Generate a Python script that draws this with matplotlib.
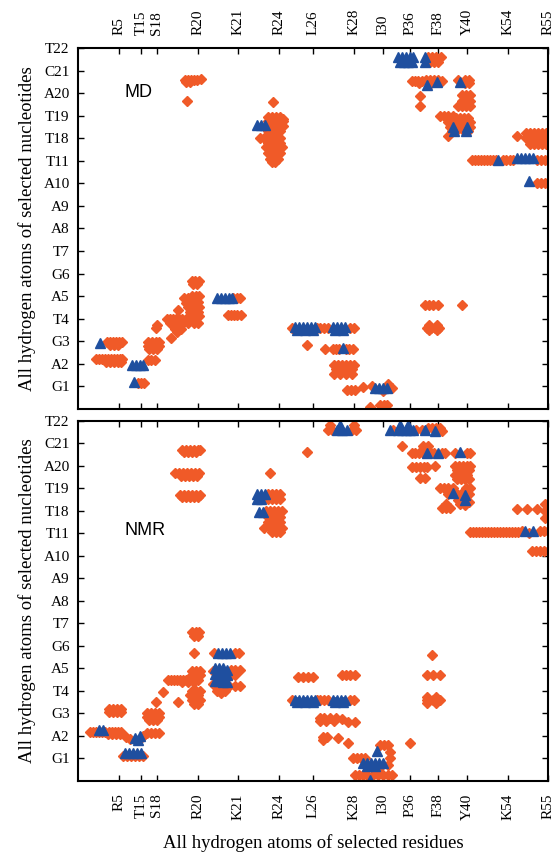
import matplotlib.pyplot as plt

# residues along x (hydrogen atom index) and nucleotides along y
residues = ['R5', 'T15', 'S18', 'R20', 'K21', 'R24', 'L26', 'K28', 'I30',
            'P36', 'F38', 'Y40', 'K54', 'R55']
residue_pos = [41, 63, 79, 120, 160, 201, 235, 276, 305, 332, 360, 389, 430, 470]
nucleotides = ['G1', 'A2', 'G3', 'T4', 'A5', 'G6', 'T7', 'A8', 'A9', 'A10',
               'T11', 'T18', 'T19', 'A20', 'C21', 'T22']

# MD contacts (x = atom index, y = nucleotide position)
md_orange = [
    (29, 2.95), (32, 2.95), (35, 2.95), (38, 2.95), (41, 2.95), (44, 2.95),
    (32, 2.85), (36, 2.85), (40, 2.85),
    (18, 2.2), (21, 2.2), (24, 2.2), (27, 2.2), (30, 2.2), (33, 2.2),
    (36, 2.2), (39, 2.2), (42, 2.2), (44, 2.2),
    (28, 2.1), (32, 2.1), (36, 2.1), (40, 2.1), (43, 2.1),
    (60, 1.14), (63, 1.14), (66, 1.14),
    (70, 2.15), (73, 2.15), (77, 2.15),
    (70, 2.95), (74, 2.95), (78, 2.95), (81, 2.95),
    (70, 2.8), (74, 2.8), (78, 2.8), (81, 2.8),
    (71, 2.65), (75, 2.65), (79, 2.65),
    (78, 3.6), (79, 3.7),
    (93, 3.15),
    (89, 4.0), (92, 4.0), (95, 4.0), (98, 4.0), (101, 4.0), (104, 4.0), (108, 4.0), (112, 4.0),
    (92, 3.8), (95, 3.8), (98, 3.8), (102, 3.8), (105, 3.8), (110, 3.8), (116, 3.8), (120, 3.8),
    (97, 3.55), (100, 3.55), (103, 3.55), (99, 3.4),
    (100, 4.4),
    (106, 4.9), (110, 4.9), (114, 5.0), (118, 5.0), (121, 5.0),
    (108, 4.7), (112, 4.7), (116, 4.75), (120, 4.75),
    (110, 4.5), (114, 4.5), (118, 4.5), (121, 4.5),
    (112, 4.3), (116, 4.3), (120, 4.3),
    (114, 4.1), (118, 4.1), (121, 4.1),
    (114, 5.65), (117, 5.65), (121, 5.65), (115, 5.55), (119, 5.55),
    (107, 14.6), (110, 14.6), (113, 14.6), (116, 14.6), (119, 14.6), (123, 14.62),
    (108, 14.5), (112, 14.5), (109, 13.64),
    (155, 4.94), (159, 4.94), (162, 4.94),
    (150, 4.17), (153, 4.17), (156, 4.17), (159, 4.17), (163, 4.17),
    (190, 12.95), (194, 12.95), (198, 12.95), (202, 12.95), (205, 12.85),
    (190, 12.75), (194, 12.75), (198, 12.75), (202, 12.75), (205, 12.75),
    (190, 12.55), (194, 12.55), (198, 12.55), (202, 12.55), (205, 12.55),
    (190, 12.3), (194, 12.3), (198, 12.3), (202, 12.3),
    (195, 13.6),
    (182, 12.0), (186, 12.0), (190, 12.0), (194, 12.0), (198, 12.0), (202, 12.0),
    (190, 11.8), (194, 11.8), (198, 11.8), (202, 11.8),
    (188, 11.6), (192, 11.6), (196, 11.6), (200, 11.6), (204, 11.6),
    (190, 11.35), (194, 11.35), (198, 11.35), (202, 11.35),
    (192, 11.1), (196, 11.1), (200, 11.1), (194, 10.95), (197, 10.95),
    (214, 3.6), (239, 3.6), (242, 3.6), (246, 3.6), (250, 3.6), (272, 3.6), (276, 3.6),
    (229, 2.84), (247, 2.65), (255, 2.65), (258, 2.65), (261, 2.65), (268, 2.65),
    (271, 2.65), (275, 2.65),
    (256, 1.95), (260, 1.95), (264, 1.95), (268, 1.95), (272, 1.95), (276, 1.95),
    (258, 1.75), (262, 1.75), (266, 1.75), (270, 1.75), (274, 1.75),
    (256, 1.55), (262, 1.55), (268, 1.55), (274, 1.55),
    (269, 0.84), (273, 0.84), (277, 0.84), (285, 0.99),
    (294, 1.0), (311, 0.95), (314, 0.95), (310, 1.1), (305, 0.8),
    (292, 0.1), (302, 0.18), (306, 0.18), (309, 0.18), (304, 0.05),
    (350, 15.6), (354, 15.6), (358, 15.6), (363, 15.6), (352, 15.4), (356, 15.4), (360, 15.4),
    (334, 14.55), (337, 14.55), (340, 14.55), (344, 14.55), (348, 14.6), (352, 14.6),
    (356, 14.6), (360, 14.6), (364, 14.55), (341, 14.45), (353, 14.45),
    (380, 14.6), (387, 14.6), (391, 14.6), (387, 14.45), (391, 14.45),
    (342, 13.86), (342, 13.42),
    (362, 12.97), (366, 12.97), (370, 12.97), (375, 12.97),
    (384, 13.9), (388, 13.9), (392, 13.9), (384, 13.65), (388, 13.65), (392, 13.65),
    (380, 13.45), (384, 13.45), (388, 13.45), (392, 13.45),
    (370, 12.9), (374, 12.9), (378, 12.9), (382, 12.9), (386, 12.9), (390, 12.9),
    (370, 12.7), (378, 12.7), (382, 12.7), (386, 12.7), (392, 12.7),
    (372, 12.5), (380, 12.5), (384, 12.5), (392, 12.5),
    (374, 12.3), (378, 12.3), (386, 12.3), (390, 12.3), (370, 12.1),
    (394, 11.05), (397, 11.05), (400, 11.05), (403, 11.05), (406, 11.05), (409, 11.05),
    (412, 11.05), (415, 11.05), (418, 11.05),
    (425, 11.05), (428, 11.05), (432, 11.05), (435, 11.05),
    (459, 11.05), (463, 11.05), (467, 11.05), (470, 11.05),
    (439, 12.1),
    (448, 12.25), (452, 12.25), (456, 12.25), (460, 12.25), (464, 12.25), (468, 12.25),
    (448, 12.0), (452, 12.0), (456, 12.0), (460, 12.0), (464, 12.0), (468, 12.0),
    (452, 11.75), (456, 11.75), (460, 11.75), (464, 11.75), (468, 11.75),
    (459, 10.0), (463, 10.0), (467, 10.0), (470, 10.0),
    (347, 4.62), (351, 4.62), (355, 4.62), (360, 4.62), (384, 4.62),
    (349, 3.6), (353, 3.6), (357, 3.6), (361, 3.6),
    (351, 3.72), (359, 3.72), (351, 3.48), (359, 3.48),
]
md_blue = [
    (22, 2.92),
    (54, 1.95), (58, 1.95), (62, 1.95), (65, 1.95), (56, 1.21),
    (139, 4.94), (143, 4.94), (147, 4.94), (151, 4.94), (154, 4.94),
    (179, 12.6), (183, 12.6), (187, 12.6),
    (217, 3.62), (221, 3.62), (225, 3.62), (229, 3.62), (233, 3.62), (237, 3.62),
    (255, 3.62), (259, 3.62), (263, 3.62), (267, 3.62),
    (219, 3.5), (227, 3.5), (235, 3.5), (257, 3.5), (265, 3.5),
    (265, 2.69),
    (297, 0.95), (301, 0.95), (305, 0.95), (309, 0.95),
    (320, 15.6), (324, 15.6), (328, 15.6), (332, 15.6), (335, 15.6),
    (322, 15.4), (326, 15.4), (330, 15.4), (334, 15.4),
    (347, 15.6), (347, 15.4),
    (349, 14.35), (359, 14.5), (382, 14.5),
    (375, 12.5), (389, 12.5), (376, 12.3), (388, 12.3),
    (420, 11.05), (439, 11.13), (443, 11.13), (447, 11.13), (451, 11.13), (455, 11.13),
    (451, 10.09),
]

# NMR contacts
nmr_orange = [
    (12, 2.19), (15, 2.19), (18, 2.19), (21, 2.19), (24, 2.19), (27, 2.19), (31, 2.19),
    (34, 2.19), (37, 2.19), (40, 2.19), (43, 2.19),
    (30, 2.1), (34, 2.1), (38, 2.1), (42, 2.1),
    (31, 3.2), (35, 3.2), (39, 3.2), (43, 3.2), (31, 3.05), (35, 3.05), (39, 3.05), (43, 3.05),
    (48, 1.96),
    (45, 1.1), (49, 1.1), (53, 1.1), (57, 1.1), (61, 1.1), (65, 1.1),
    (52, 1.85), (65, 2.0), (64, 1.95),
    (69, 3.0), (73, 3.0), (77, 3.0), (81, 3.0), (69, 2.85), (73, 2.85), (77, 2.85), (81, 2.85),
    (71, 2.7), (75, 2.7), (79, 2.7),
    (69, 2.15), (73, 2.15), (77, 2.15), (81, 2.15), (78, 3.5), (85, 3.95),
    (100, 3.5),
    (90, 4.5), (93, 4.5), (96, 4.5), (99, 4.5), (102, 4.5), (105, 4.5), (108, 4.5),
    (111, 4.5), (114, 4.5), (117, 4.5), (120, 4.5),
    (104, 4.42), (110, 4.42), (116, 4.42),
    (114, 4.9), (118, 4.9), (122, 4.9), (114, 4.7), (118, 4.7), (122, 4.7),
    (114, 4.0), (118, 4.0), (122, 4.0),
    (112, 3.8), (116, 3.8), (120, 3.8), (114, 3.6), (118, 3.6), (122, 3.6),
    (116, 3.4), (120, 3.4),
    (116, 5.7), (114, 6.6), (118, 6.6), (121, 6.6), (116, 6.45), (120, 6.45),
    (104, 14.71), (108, 14.71), (112, 14.71), (116, 14.71), (120, 14.71), (122, 14.71),
    (106, 14.6), (110, 14.6), (114, 14.6), (118, 14.6),
    (97, 13.67), (101, 13.67), (105, 13.67), (109, 13.67), (113, 13.67), (117, 13.67),
    (121, 13.67), (103, 13.55), (107, 13.55), (111, 13.55), (115, 13.55), (119, 13.55),
    (102, 12.71), (106, 12.71), (110, 12.71), (114, 12.71), (118, 12.71), (122, 12.71),
    (104, 12.6), (108, 12.6), (112, 12.6), (116, 12.6), (120, 12.6),
    (157, 5.67), (161, 5.67), (136, 5.67),
    (135, 4.9), (153, 4.95), (157, 4.93), (162, 4.93), (153, 4.7), (157, 4.7),
    (135, 4.3), (139, 4.2), (143, 4.2), (147, 4.2), (151, 4.2), (157, 4.2), (162, 4.2),
    (139, 4.0), (143, 3.9), (147, 4.0),
    (190, 12.75), (194, 12.75), (198, 12.75), (202, 12.75),
    (190, 12.55), (194, 12.55), (198, 12.55), (202, 12.55), (192, 13.67),
    (188, 12.0), (192, 12.0), (196, 12.0), (200, 12.0), (204, 12.0),
    (190, 11.75), (194, 11.75), (198, 11.75), (202, 11.75),
    (190, 11.5), (194, 11.5), (198, 11.5), (202, 11.5),
    (186, 11.25), (192, 11.25), (196, 11.25), (200, 11.25), (204, 11.25),
    (194, 11.05), (198, 11.05), (202, 11.05),
    (250, 15.6), (254, 15.6), (274, 15.6), (278, 15.6), (252, 15.8), (276, 15.8),
    (229, 14.6),
    (315, 15.6), (338, 15.6),
    (350, 15.7), (354, 15.7), (358, 15.7), (362, 15.7), (364, 15.55), (344, 15.6),
    (324, 14.88),
    (334, 14.56), (337, 14.56), (341, 14.56), (345, 14.56), (353, 14.56), (356, 14.56),
    (364, 14.56), (367, 14.56), (345, 14.88), (350, 14.88),
    (334, 13.97), (338, 13.97), (342, 13.97), (346, 13.97), (349, 13.97), (357, 14.0),
    (342, 13.45), (347, 13.45),
    (377, 14.56), (389, 14.56), (392, 14.56),
    (377, 14.0), (381, 14.0), (385, 14.0), (389, 14.0), (392, 14.0),
    (379, 13.8), (383, 13.8), (387, 13.8), (391, 13.8),
    (377, 13.6), (381, 13.6), (385, 13.6), (389, 13.6),
    (379, 13.4), (383, 13.4), (387, 13.4), (391, 13.4),
    (362, 13.0), (366, 13.0), (370, 13.0), (375, 13.0), (388, 13.0), (392, 13.0),
    (370, 12.75), (379, 12.75), (383, 12.75), (391, 12.75), (380, 12.5), (391, 12.4),
    (364, 12.12), (368, 12.12), (372, 12.12), (382, 12.3), (387, 12.25), (368, 12.3),
    (392, 11.08), (395, 11.08), (398, 11.08), (401, 11.08), (404, 11.08), (407, 11.08),
    (410, 11.08), (413, 11.08), (416, 11.08), (419, 11.08), (422, 11.08), (425, 11.08),
    (428, 11.08), (431, 11.08), (434, 11.08), (437, 11.08), (440, 11.08),
    (444, 11.1), (451, 11.0), (462, 11.1), (466, 11.1), (470, 11.1),
    (439, 12.1), (449, 12.1), (459, 12.1), (467, 12.3), (470, 12.3), (467, 12.0),
    (470, 12.0), (467, 11.7), (470, 11.7),
    (454, 10.2), (458, 10.2), (462, 10.2), (466, 10.2), (470, 10.2),
    (214, 3.6), (239, 3.6), (242, 3.6), (246, 3.6), (250, 3.6), (272, 3.6), (276, 3.6),
    (220, 4.64), (225, 4.64), (230, 4.64), (235, 4.64),
    (264, 4.7), (268, 4.7), (272, 4.7), (277, 4.7),
    (242, 2.8), (246, 2.8), (252, 2.8), (258, 2.8), (242, 2.65), (248, 2.65), (256, 2.65),
    (264, 2.75), (270, 2.64), (277, 2.64),
    (245, 1.95), (249, 1.95), (245, 1.8), (260, 1.9), (270, 1.67),
    (275, 1.0), (279, 1.0), (283, 1.0), (287, 1.0), (302, 1.6), (306, 1.6), (310, 1.6),
    (312, 1.3), (312, 1.0), (310, 0.7), (302, 0.6),
    (277, 0.27), (281, 0.27), (285, 0.27), (289, 0.27), (295, 0.27), (300, 0.27),
    (305, 0.27), (310, 0.27), (314, 0.27),
    (332, 1.67),
    (354, 5.6), (349, 4.7), (355, 4.7), (362, 4.7), (349, 3.6), (355, 3.6), (362, 3.6),
    (349, 3.75), (358, 3.75), (349, 3.48), (358, 3.48),
]
nmr_blue = [
    (21, 2.25), (25, 2.25),
    (47, 1.23), (51, 1.23), (55, 1.23), (59, 1.23), (63, 1.23),
    (57, 1.9), (62, 2.0), (60, 1.8),
    (140, 5.67), (144, 5.67), (148, 5.67), (152, 5.67),
    (137, 5.0), (141, 5.0), (145, 5.0), (149, 4.95),
    (137, 4.75), (141, 4.75), (145, 4.7), (149, 4.7),
    (137, 4.45), (141, 4.45), (145, 4.4), (149, 4.4),
    (179, 12.75), (183, 12.75), (187, 12.75), (179, 12.55), (183, 12.55),
    (181, 11.97), (185, 11.97),
    (259, 15.6), (264, 15.6), (269, 15.6), (262, 15.8),
    (312, 15.6), (320, 15.6), (324, 15.6), (328, 15.6), (332, 15.6), (335, 15.6),
    (322, 15.8), (330, 15.8),
    (347, 15.6), (357, 15.55),
    (349, 14.56), (360, 14.56),
    (382, 14.6),
    (375, 12.8), (387, 12.7), (387, 12.5),
    (447, 11.1), (455, 11.1),
    (217, 3.62), (221, 3.62), (225, 3.62), (229, 3.62), (233, 3.62), (237, 3.62),
    (255, 3.62), (259, 3.62), (263, 3.62), (267, 3.62),
    (219, 3.5), (227, 3.5), (235, 3.5), (257, 3.5), (265, 3.5),
    (285, 0.8), (289, 0.8), (293, 0.8), (297, 0.8), (301, 0.8), (305, 0.8),
    (299, 1.35), (289, 0.65), (297, 0.65),
    (292, 0.05),
]

ORANGE = '#f05a28'
BLUE = '#1f4f9f'
serif = ['Liberation Serif', 'DejaVu Serif']

fig = plt.figure(figsize=(5.53, 8.57), dpi=100)
ax_md = fig.add_axes([0.141, 0.5228, 0.85, 0.4212])
ax_nmr = fig.add_axes([0.141, 0.0887, 0.85, 0.4201])

panels = [(ax_md, md_orange, md_blue, 'MD', True, 0.878),
          (ax_nmr, nmr_orange, nmr_blue, 'NMR', False, 0.697)]

for ax, orange, blue, name, on_top, name_y in panels:
    ox, oy = zip(*orange)
    bx, by = zip(*blue)
    ax.plot(ox, oy, 'D', color=ORANGE, ms=5.5, mec=ORANGE)
    ax.plot(bx, by, '^', color=BLUE, ms=7.5, mec=BLUE)
    ax.set_xlim(0, 470)
    ax.set_ylim(0, 16)
    ax.set_xticks(residue_pos)
    ax.set_xticklabels(residues, rotation=90, family=serif, fontsize=11)
    ax.set_yticks(range(1, 17))
    ax.set_yticklabels(nucleotides, family=serif, fontsize=11)
    ax.tick_params(direction='in', length=4, width=1, top=True, right=True,
                   labeltop=on_top, labelbottom=not on_top)
    ax.tick_params(axis='x', pad=9)
    ax.tick_params(axis='y', pad=6)
    for s in ax.spines.values():
        s.set_linewidth(1.5)
    ax.set_ylabel('All hydrogen atoms of selected nucleotides', family=serif,
                  fontsize=13.5, labelpad=5)
    ax.text(0.098, name_y, name, transform=ax.transAxes, va='center',
            family=['Liberation Sans', 'DejaVu Sans'], fontsize=13)

ax_nmr.set_xlabel('All hydrogen atoms of selected residues', family=serif,
                  fontsize=13.5, labelpad=10)

fig.savefig('out.png', dpi=100)
